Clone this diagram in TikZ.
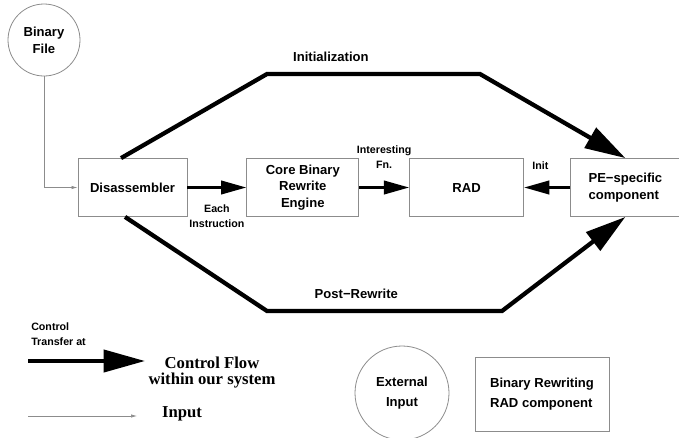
\documentclass[tikz,border=0pt]{standalone}
\usepackage{fontspec}
\setmainfont{Liberation Serif}
\setsansfont{Liberation Sans}
\usepackage{tikz}
\usetikzlibrary{arrows.meta, positioning}
\definecolor{boxgray}{HTML}{8C8C8C}
\tikzset{
  compbox/.style={
    rectangle, draw=boxgray, line width=0.6pt, inner sep=2pt,
    minimum height=43.5pt, align=center,
    font=\sffamily\bfseries\fontsize{9.8}{12.4}\selectfont
  },
  extin/.style={
    circle, draw=boxgray, line width=0.6pt, inner sep=0pt, align=center,
    font=\sffamily\bfseries\fontsize{9.8}{12.8}\selectfont
  },
  lbl/.style={font=\sffamily\bfseries\fontsize{9.8}{12.4}\selectfont, inner sep=0pt},
  smalllbl/.style={font=\sffamily\bfseries\fontsize{8}{11.25}\selectfont, align=center, inner sep=0pt},
  legendlbl/.style={font=\rmfamily\bfseries\fontsize{12.5}{12}\selectfont, align=center, inner sep=0pt},
  flow/.style={-{Triangle[length=19pt, width=10pt]}, line width=2.2pt},
  bigflow/.style={-{Triangle[length=30.5pt, width=17pt]}, line width=3.2pt},
  legflow/.style={-{Triangle[length=31pt, width=16.5pt]}, line width=3pt},
  inarrow/.style={-{Latex[length=4.5pt, width=2.5pt]}, line width=0.5pt, draw=boxgray},
}

\begin{document}
\begin{tikzpicture}[x=0.75pt, y=-0.75pt]
  \useasboundingbox (0,0) rectangle (679,437);

  % --- external input ---
  \node[extin, minimum size=54pt] (bfile) at (44,40) {Binary\\File};

  % --- rewriting chain ---
  \node[compbox, minimum width=81.75pt] (dis) at (132.5,187.5) {Disassembler};
  \node[compbox, minimum width=84pt, right=44.25pt of dis] (core)
    {Core Binary\\Rewrite\\Engine};
  \node[compbox, minimum width=85.5pt, right=37.5pt of core] (rad) {RAD};
  \node[compbox, minimum width=82.5pt, right=34.5pt of rad, align=left] (pe)
    {PE−specific\\component};

  % --- arrows in the chain ---
  \draw[flow] (dis) -- node[smalllbl, below=12pt] {Each\\Instruction} (core);
  \draw[flow] (core) -- node[smalllbl, above=13.5pt] {Interesting\\Fn.} (rad);
  \draw[flow] (pe) -- node[smalllbl, above=12pt, xshift=-5pt] {Init} (rad);

  % --- control transfer ---
  \coordinate (i1) at (267,74);
  \coordinate (i2) at (480,74);
  \draw[bigflow] ([xshift=-8.6pt]dis.north) -- (i1)
    -- node[lbl, pos=0.3, above=8pt] {Initialization} (i2) -- (pe.north);
  \coordinate (p1) at (267,311);
  \coordinate (p2) at (502,311);
  \draw[bigflow] ([xshift=-5.6pt]dis.south) -- (p1)
    -- node[lbl, pos=0.38, above=8pt] {Post−Rewrite} (p2) -- (pe.south);

  % --- input ---
  \draw[inarrow] (bfile) |- (dis);

  % --- legend ---
  \node[smalllbl, align=left, anchor=north west] (ctlbl) at (31,322)
    {Control\\Transfer at};
  \coordinate (cfa) at (28,361);
  \coordinate (cfb) at (145,361);
  \draw[legflow] (cfa) -- (cfb);
  \node[legendlbl] (cflbl) at (212,373) {Control Flow\\within our system};
  \coordinate (ina) at (28,416);
  \coordinate (inb) at (137,416);
  \draw[inarrow] (ina) -- (inb);
  \node[legendlbl] (inlbl) at (182,414) {Input};
  \node[extin, minimum size=70.5pt,
        font=\sffamily\bfseries\fontsize{9.8}{15}\selectfont] (extn) at (402,393)
    {External\\Input};
  \node[compbox, minimum width=100.5pt, minimum height=55.5pt, align=left,
        font=\sffamily\bfseries\fontsize{9.8}{15}\selectfont] (rwbox) at (542,394)
    {Binary Rewriting\\RAD component};

\end{tikzpicture}
\end{document}
